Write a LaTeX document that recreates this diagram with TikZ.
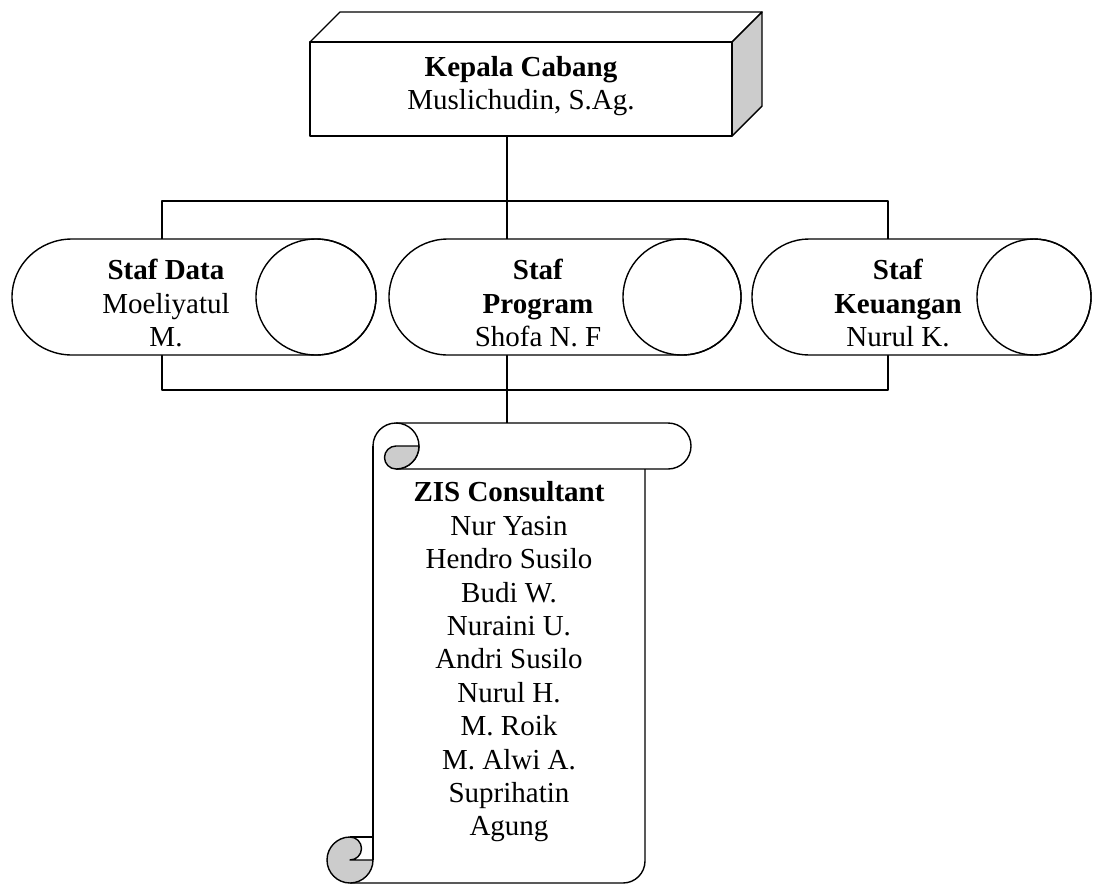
\documentclass[tikz,border=0pt]{standalone}
\usepackage{fontspec}
\setmainfont{Liberation Serif}
\newcommand\mycan[3]{%
  \path[shp] (#1+#3,239) -- (#2-#3,239) arc[start angle=-90,end angle=90,x radius=#3,y radius=58]
    -- (#1+#3,355) arc[start angle=90,end angle=270,x radius=#3,y radius=58] -- cycle;
  \draw (#2-#3,297) ellipse [x radius=#3,y radius=58];
}
\begin{document}
\begin{tikzpicture}[x=1pt,y=-1pt, line width=1.4pt, line join=round,
  shp/.style={draw=black, fill=white},
  gshp/.style={draw=black, fill=black!20},
  lbl/.style={align=center, inner sep=0pt, font=\fontsize{29}{33.4}\selectfont},
  conn/.style={draw=black}]
\useasboundingbox (0,0) rectangle (1093,884);
% connector end points
\coordinate (kcB) at (507,136);
\coordinate (sdT) at (162,239);
\coordinate (spT) at (507,239);
\coordinate (skT) at (888,239);
\coordinate (sdB) at (162,355);
\coordinate (spB) at (507,355);
\coordinate (skB) at (888,355);
\coordinate (zisT) at (507,423);
% connectors
\path[conn] (kcB) -- (spT);
\path[conn] (sdT) -- (162,201) -| (skT);
\path[conn] (sdB) -- (162,390) -| (skB);
\path[conn] (spB) -- (zisT);
% top box
\path[shp] (310,42) -- (340,12) -- (762,12) -- (732,42) -- cycle;
\path[gshp] (732,42) -- (762,12) -- (762,106) -- (732,136) -- cycle;
\path[shp] (310,42) rectangle (732,136);
% cans
\mycan{12}{376}{60}
\mycan{389}{741}{59}
\mycan{752}{1091}{57}
% scroll
\draw (373,446) -- (373,860);
\draw (645,469) -- (645,861) arc[start angle=0,end angle=90,radius=22] -- (350,883);
\draw (373,446) arc[start angle=180,end angle=450,radius=23];
\draw (396,423) -- (668,423) arc[start angle=-90,end angle=90,radius=23] -- (396,469);
\path[gshp] (396,446) -- (419,446) arc[start angle=0,end angle=90,radius=23]
   arc[start angle=90,end angle=270,radius=11.5] -- cycle;
\path[gshp] (350,860) -- (373,860) arc[start angle=0,end angle=270,radius=23]
   arc[start angle=-90,end angle=90,radius=11.5] -- cycle;
\draw (350,837) -- (373,837);
% labels
\node[lbl] (kc) at (521,86) {\textbf{Kepala Cabang}\\Muslichudin, S.Ag.};
\node[lbl] (sd) at (166,303) {\textbf{Staf Data}\\Moeliyatul\\M.};
\node[lbl] (sp) at (538,303) {\textbf{Staf}\\\textbf{Program}\\Shofa N. F};
\node[lbl] (sk) at (898,303) {\textbf{Staf}\\\textbf{Keuangan}\\Nurul K.};
\node[lbl] (zis) at (509,662) {\textbf{ZIS Consultant}\\Nur Yasin\\Hendro Susilo\\Budi W.\\Nuraini U.\\Andri Susilo\\Nurul H.\\M. Roik\\M. Alwi A.\\Suprihatin\\Agung};
\end{tikzpicture}
\end{document}
